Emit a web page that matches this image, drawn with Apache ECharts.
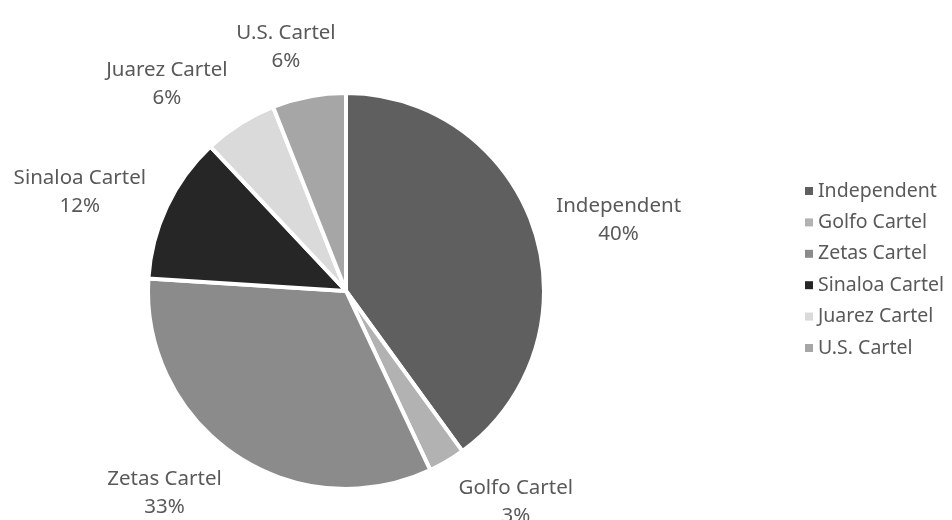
<!DOCTYPE html>
<html>
<head>
<meta charset="utf-8">
<script src="https://cdn.jsdelivr.net/npm/echarts@6/dist/echarts.min.js"></script>
<style>
html,body{margin:0;padding:0;background:#fff;}
#chart{width:952px;height:520px;}
</style>
</head>
<body>
<div id="chart"></div>
<script>
const categories = ['Independent', 'Golfo Cartel', 'Zetas Cartel', 'Sinaloa Cartel', 'Juarez Cartel', 'U.S. Cartel'];
const values = [40, 3, 33, 12, 6, 6];
const colors = ['#5f5f5f', '#b2b2b2', '#8b8b8b', '#262626', '#dadada', '#a6a6a6'];

const CX = 346, CY = 291, R = 198, LABEL_DIST = 221;
const total = values.reduce((a, b) => a + b, 0);
const midAngles = [];
(function () {
  let acc = 0;
  values.forEach(v => {
    midAngles.push((acc + v / 2) / total * 2 * Math.PI);
    acc += v;
  });
})();
const clamp = (v) => Math.max(-1, Math.min(1, v));

const chart = echarts.init(document.getElementById('chart'), null, { renderer: 'canvas' });
chart.setOption({
  animation: false,
  backgroundColor: '#ffffff',
  textStyle: { fontFamily: 'Noto Sans' },
  legend: {
    orient: 'vertical',
    left: 800,
    top: 176,
    icon: 'rect',
    itemWidth: 8,
    itemHeight: 8,
    itemGap: 11.4,
    data: categories,
    itemStyle: { borderWidth: 0 },
    textStyle: { color: '#595959', fontSize: 19.5, lineHeight: 20, fontFamily: 'Noto Sans' }
  },
  series: [{
    type: 'pie',
    center: [CX, CY],
    radius: [0, R],
    startAngle: 90,
    clockwise: true,
    silent: true,
    itemStyle: { borderColor: '#ffffff', borderWidth: 4 },
    label: {
      show: true,
      position: 'outside',
      overflow: 'none',
      color: '#595959',
      fontSize: 20.5,
      lineHeight: 28,
      fontFamily: 'Noto Sans',
      formatter: (p) => p.name + '\n' + Math.round(p.percent) + '%'
    },
    labelLine: { show: false },
    labelLayout: function (params) {
      const a = midAngles[params.dataIndex];
      const ux = Math.sin(a), uy = -Math.cos(a);
      const w = params.labelRect.width, h = params.labelRect.height;
      const ax = CX + LABEL_DIST * ux, ay = CY + LABEL_DIST * uy;
      return {
        x: ax + clamp(2 * ux) * w / 2,
        y: ay + Math.sign(uy) * uy * uy * h / 2,
        align: 'center',
        verticalAlign: 'middle'
      };
    },
    data: categories.map((c, i) => ({ name: c, value: values[i], itemStyle: { color: colors[i] } }))
  }]
});
</script>
</body>
</html>
